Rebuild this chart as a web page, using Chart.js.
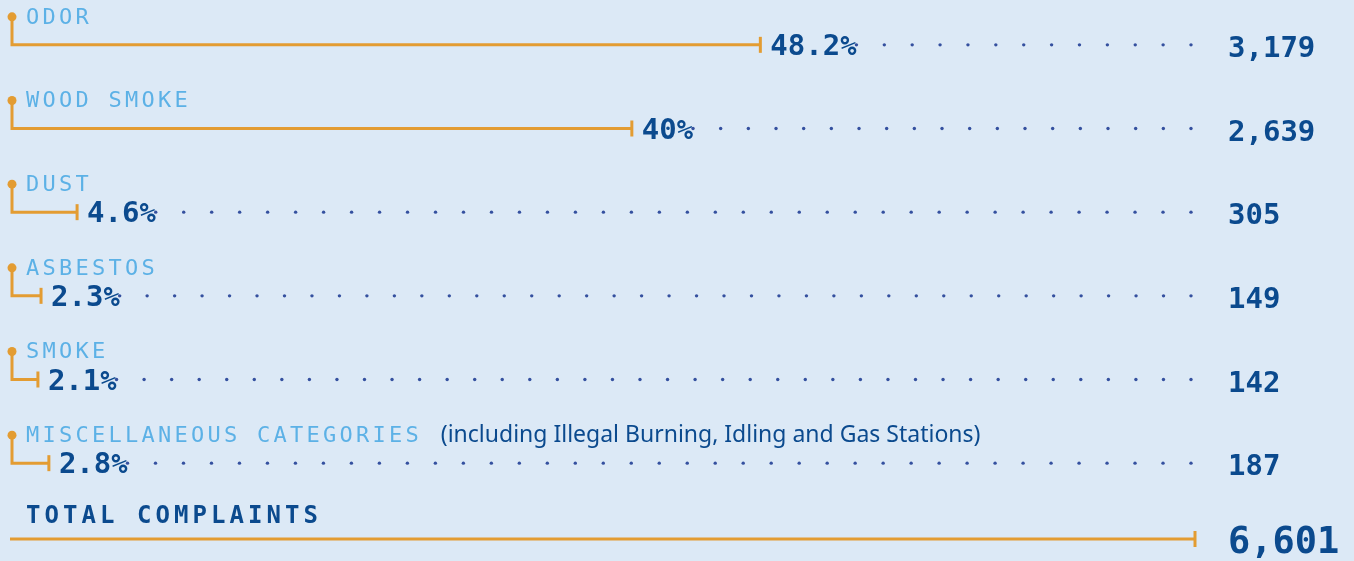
<!DOCTYPE html>
<html>
<head>
<meta charset="utf-8">
<script src="https://cdn.jsdelivr.net/npm/chart.js@4"></script>
<style>
  html, body { margin: 0; padding: 0; background: #dce9f6; }
  canvas { display: block; }
</style>
</head>
<body>
<canvas id="complaints" width="1354" height="561"></canvas>
<script>
const categories = ["ODOR", "WOOD SMOKE", "DUST", "ASBESTOS", "SMOKE", "MISCELLANEOUS CATEGORIES"];
const shares = [48.2, 40, 4.6, 2.3, 2.1, 2.8];
const counts = [3179, 2639, 305, 149, 142, 187];
const notes = ["", "", "", "", "", "(including Illegal Burning, Idling and Gas Stations)"];
const totalLabel = "TOTAL COMPLAINTS";
const totalCount = 6601;

const ORANGE = "#e39c32";
const LIGHT = "#5cb1e6";
const DARK = "#0b4a8e";
const DOTS = "#34509f";
const MONO = "'DejaVu Sans Mono', monospace";

function spaced(ctx, text, x, y, step) {
  for (let i = 0; i < text.length; i++) {
    ctx.fillText(text[i], x + i * step, y);
  }
  return x + (text.length - 1) * step + ctx.measureText(text[text.length - 1]).width;
}

function elbowTick(ctx, x, y) {
  ctx.beginPath();
  ctx.moveTo(x, y - 8);
  ctx.lineTo(x, y + 8);
  ctx.stroke();
}

const infographic = {
  id: "infographic",
  afterDatasetsDraw(chart) {
    const ctx = chart.ctx;
    const area = chart.chartArea;
    const meta = chart.getDatasetMeta(0);
    const lineX = 12;
    const dotsEnd = area.right - 5;
    const countX = area.right + 32;
    ctx.save();
    meta.data.forEach((bar, i) => {
      const y = bar.y;
      const top = y - 28;
      // connector
      ctx.strokeStyle = ORANGE;
      ctx.fillStyle = ORANGE;
      ctx.lineWidth = 3;
      ctx.beginPath();
      ctx.arc(lineX, top, 4.5, 0, Math.PI * 2);
      ctx.fill();
      ctx.beginPath();
      ctx.moveTo(lineX, top);
      ctx.lineTo(lineX, y);
      ctx.lineTo(bar.x, y);
      ctx.stroke();
      elbowTick(ctx, bar.x, y);

      // category label
      ctx.fillStyle = LIGHT;
      ctx.font = "22px " + MONO;
      ctx.textBaseline = "middle";
      ctx.textAlign = "left";
      const labelEnd = spaced(ctx, categories[i], 26, top + 1, 16.5);
      if (notes[i]) {
        ctx.fillStyle = DARK;
        ctx.font = "23px 'Noto Sans', sans-serif";
        ctx.fillText(notes[i], labelEnd + 22, top);
      }

      // percentage
      ctx.textBaseline = "alphabetic";
      ctx.fillStyle = DARK;
      ctx.font = "bold 29px " + MONO;
      const num = String(shares[i]);
      const px = bar.x + 10;
      ctx.fillText(num, px, y + 10);
      const pctX = px + ctx.measureText(num).width;
      ctx.font = "bold 27px " + MONO;
      ctx.fillText("%", pctX, y + 10);
      const pctEnd = pctX + ctx.measureText("%").width;

      // leader dots
      ctx.fillStyle = DOTS;
      const start = pctEnd;
      const n = Math.round((dotsEnd - start) / 27.8);
      const step = (dotsEnd - start) / n;
      for (let k = 0; k <= n; k++) {
        ctx.beginPath();
        ctx.arc(start + k * step, y, 1.7, 0, Math.PI * 2);
        ctx.fill();
      }

      // count
      ctx.fillStyle = DARK;
      ctx.font = "bold 29px " + MONO;
      ctx.fillText(counts[i].toLocaleString("en-US"), countX, y + 12);
    });

    // total row
    const ty = area.bottom + 34;
    ctx.fillStyle = DARK;
    ctx.font = "bold 24px " + MONO;
    ctx.textBaseline = "alphabetic";
    spaced(ctx, totalLabel, 26, ty - 16, 18.5);
    ctx.strokeStyle = ORANGE;
    ctx.lineWidth = 3;
    ctx.beginPath();
    ctx.moveTo(10, ty);
    ctx.lineTo(area.right - 1, ty);
    ctx.stroke();
    elbowTick(ctx, area.right - 1, ty);
    ctx.font = "bold 37px " + MONO;
    ctx.fillText(totalCount.toLocaleString("en-US"), countX, ty + 14);
    ctx.restore();
  }
};

new Chart(document.getElementById("complaints"), {
  type: "bar",
  data: {
    labels: categories,
    datasets: [{
      data: shares,
      backgroundColor: "rgba(0,0,0,0)",
      barThickness: 3,
    }],
  },
  options: {
    indexAxis: "y",
    responsive: false,
    animation: false,
    layout: {
      padding: { left: 5, right: 158, top: 3, bottom: 56 },
    },
    scales: {
      x: { display: false, min: 0, max: 76 },
      y: { display: false },
    },
    plugins: {
      legend: { display: false },
      tooltip: { enabled: false },
    },
  },
  plugins: [infographic],
});
</script>
</body>
</html>
